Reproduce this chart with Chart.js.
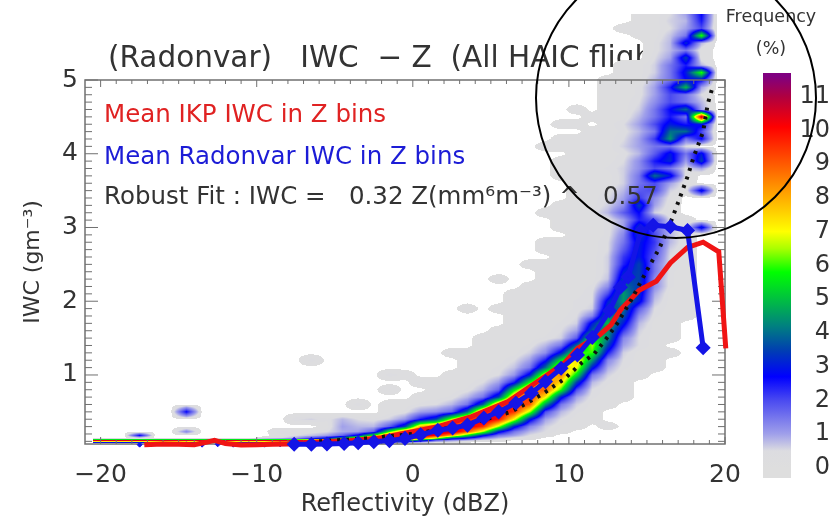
<!DOCTYPE html>
<html>
<head>
<meta charset="utf-8">
<script src="https://cdn.jsdelivr.net/npm/chart.js@4/dist/chart.umd.min.js"></script>
<style>
  html, body { margin: 0; padding: 0; background: #fff; overflow: hidden; }
  #barChart { position: absolute; left: 750px; top: 60px; }
  #mainChart { position: absolute; left: 0; top: 0; }
</style>
</head>
<body>
<canvas id="barChart" width="80" height="430"></canvas>
<canvas id="mainChart" width="839" height="519"></canvas>
<script>
// Mean IKP IWC in Z bins
const redZ = [-17.2, -16, -15, -14, -13.4, -12.7, -12, -11, -10, -9, -8, -7, -6, -5, -4, -3, -2, -1, 0, 1.6, 3.7, 6.1, 8.6, 9.7, 10.55, 11.95, 12.7, 13.3, 14.5, 15.6, 16.5, 17.6, 18.6, 19.6, 20.05];
const redIwc = [0.055, 0.065, 0.06, 0.055, 0.08, 0.115, 0.07, 0.05, 0.055, 0.06, 0.065, 0.08, 0.09, 0.1, 0.11, 0.13, 0.15, 0.19, 0.23, 0.3, 0.43, 0.64, 1.0, 1.16, 1.36, 1.54, 1.68, 1.88, 2.15, 2.27, 2.52, 2.73, 2.8, 2.67, 1.36];

// Mean Radonvar IWC in Z bins
const blueZ = [-7.6, -6.5, -5.5, -4.4, -3.5, -2.5, -1.5, -0.5, 0.5, 1.6, 2.55, 3.5, 4.55, 5.5, 6.6, 7.6, 8.5, 9.5, 10.55, 11.5, 12.6, 13.3, 13.8, 14.6, 15.4, 16.5, 17.6, 18.6];
const blueIwc = [0.06, 0.06, 0.065, 0.07, 0.08, 0.095, 0.11, 0.14, 0.19, 0.25, 0.28, 0.32, 0.416, 0.5, 0.62, 0.755, 0.91, 1.09, 1.27, 1.51, 1.87, 2.19, 2.33, 2.95, 3.03, 3.01, 2.96, 1.37];
// the few low bins that show up as separate small marks under the red line
const blueLowZ = [-17.5, -14.5, -13.5, -12.5, -11.5, -10.5, -9.5, -8.5];
const blueLowIwc = [0.055, 0.06, 0.055, 0.06, 0.055, 0.06, 0.055, 0.06];

// Robust fit, dotted
const fitZ = [-6, -3, 0, 2, 4, 5, 6.3, 7.35, 8.4, 9.7, 10.8, 11.6, 12.5, 13.1, 14, 15, 15.8, 16.5, 17.05, 17.6, 18, 18.6, 18.9, 19.2];
const fitIwc = [0.1, 0.14, 0.2, 0.27, 0.36, 0.42, 0.5, 0.625, 0.755, 0.945, 1.16, 1.28, 1.52, 1.7, 2.02, 2.42, 2.72, 3.06, 3.37, 3.69, 3.96, 4.3, 4.68, 4.9];

const xTicks = [-20, -10, 0, 10, 20];
const yTicks = [1, 2, 3, 4, 5];
const barTicks = [0, 1, 2, 3, 4, 5, 6, 7, 8, 9, 10, 11];

// Frequency (%) density. One row per IWC level, first entry of a row is the
// dBZ of its first cell, cells are 1 dBZ wide, anything not listed is empty.
const iwcLevels = [5.9, 5.8, 5.7, 5.6, 5.5, 5.4, 5.3, 5.2, 5.1, 5.0, 4.9, 4.8, 4.7, 4.6, 4.5, 4.4, 4.3, 4.2, 4.1, 4.0, 3.9, 3.8, 3.7, 3.6, 3.5, 3.4, 3.3, 3.2, 3.1, 3.0, 2.9, 2.8, 2.7, 2.6, 2.5, 2.4, 2.3, 2.2, 2.1, 2.0, 1.9, 1.8, 1.7, 1.6, 1.5, 1.4, 1.3, 1.2, 1.1, 1.0, 0.9, 0.8, 0.7, 0.6, 0.5, 0.4, 0.3, 0.23, 0.18, 0.14, 0.11, 0.08];
const freqRows = [
  [14.5, .2, .3, .5, 1, 2.7],
  [14.5, .2, .3, .6, .8, 2.5],
  [13.5, .3, .3, .3, .5, 1, 2],
  [14.5, .2, .3, .7, 1.5, 6],
  [15.5, .4, .8, 3.2, .8],
  [15.5, .4, .8, 1.5, .3],
  [15.5, .5, 1, 3.5, .3],
  [13.5, .3, .3, .6, 1.5, 2.5, .8],
  [13.5, .3, .3, .6, 1.5, 3, 6],
  [12.5, .3, .3, .3, .8, 1.5, 2.7, 2.7],
  [12.5, .3, .3, .4, 1, 2.5, 5, 1],
  [12.5, .3, .3, .4, 1, 2, 1.5, .5],
  [12.5, .3, .3, .5, 1.2, 2, 1.5, .8],
  [10.5, .3, 0, .3, .3, .6, 1.5, 2.7, 4, 1],
  [11.5, .3, .3, .3, .8, 1.5, 2.5, 1.5, 11],
  [9.5, .3, .3, 0, .3, .5, 1, 2, 3, 2.5, 3],
  [11.5, .3, .3, .4, .8, 1.5, 4, 4, 2],
  [9.5, .3, .3, .3, .3, .5, 1, 2.2, 4.5, 1.5, 2.7],
  [8.5, .3, .3, .3, .3, .3, .6, 1, 1.5, 1.5, .5],
  [10.5, .3, .3, .3, .4, .8, 1.8, 3, 1.5, 3],
  [9.5, .3, .3, .3, .3, .5, 1.2, 2.5, 3.2, 1, 3.5],
  [9.5, .3, .3, .3, .4, .6, 1.2, 2, 1.5, .5, 1],
  [9.5, .3, .3, .3, .3, .6, 1.5, 4, 3, .4],
  [10.5, .3, .3, .3, .6, 1.5, 2, 1, .3],
  [10.5, .3, .3, .4, .8, 1.8, 2, .6, .3, 3],
  [10.5, .3, .3, .5, 1, 2.2, 1.2, .4],
  [9.5, .3, .3, .3, .6, 1.2, 3.5, 1, .3],
  [8.5, .3, .3, .3, .4, .8, 1.8, 2.7, .6, .3],
  [9.5, .3, .3, .3, .4, 1, 2.4, 2, .5, .3],
  [9.5, .3, .3, .3, .4, 1, 3.5, 1.8, .8, .3, 3],
  [10.5, .3, .3, .4, 1.3, 3.5, 2, .8, .3],
  [8.5, .3, .3, .3, .3, .5, 1.5, 3, 2.2, .8, .3],
  [8.5, .3, .3, .3, .3, .5, 1.8, 3, 2, .6, .3],
  [9.5, .3, .3, .3, .6, 2.2, 3, 1.8, .5, .3],
  [7.5, .3, .3, .3, .3, .3, .6, 2.4, 3.5, 1.5, .5, .3],
  [8.5, .3, .3, .3, .3, .6, 3, 3.5, 1.5, .4, .3],
  [5.5, .3, 0, 0, .3, .3, .3, .3, .7, 3.5, 3.5, 1.2, .4, .3],
  [7.5, .3, .3, .3, .3, .4, 1.2, 4, 3.4, 1.2, .4, .3],
  [6.5, .3, .3, .3, .3, .3, .5, 2, 4.5, 3.2, .9, .3, .3],
  [6.5, .3, .3, .3, .3, .4, .5, 3, 4.5, 3, .7, .3, .3],
  [3.5, .3, 0, .3, .3, .3, .3, .3, .4, .6, 3.5, 4, 1.8, .5, .3, .3],
  [6.5, .3, .3, .3, .3, .5, 1.3, 4.2, 3.7, 1.2, .4, .3, .3],
  [6.5, .3, .3, .3, .4, .6, 3, 5, 3, .8, .3, .3],
  [5.5, .3, .3, .3, .3, .5, 1, 3.8, 4.5, 2.2, .6, .3, .3],
  [4.5, .3, .3, .3, .3, .4, .6, 1.8, 6, 4.3, 1.3, .5, .3, .3],
  [4.5, .3, .3, .3, .4, .8, 1.5, 4, 6.5, 3.5, 1, .5, .3],
  [2.5, .3, .3, .3, .3, .3, .6, 1.2, 3, 6, 6, 2.5, .6, .3, .3, .3],
  [-6.5, .5, 0, 0, 0, 0, 0, 0, 0, 0, 0, .3, .3, .3, .5, 1, 2.5, 5.5, 7.5, 4.5, 1.3, .5, .3, .3],
  [3.5, .3, .3, .4, .7, 1.5, 4, 7.5, 7, 3, .9, .4, .3, .3],
  [-1.5, .5, .3, 0, 0, .3, .3, .3, .5, 1.1, 3, 7.2, 8.5, 5.5, 1.5, .6, .3, .3],
  [0.5, .4, .3, .3, .3, .5, 1, 2.5, 5.8, 8.8, 7.5, 3.5, .8, .4, .3],
  [-1.5, .4, 0, 0, .3, .3, .4, .8, 1.7, 5.5, 8.5, 9, 6, 2, .5, .3, .3],
  [0.5, .3, .3, .4, .8, 1.5, 3.5, 8, 9.7, 7.2, 3, 1, .4, .3, .3],
  [-3.5, .5, 0, .3, .3, .4, .5, .8, 1.5, 3.8, 8.4, 10, 9, 4.5, 1.5, .6, .3, .3],
  [-14.5, 2.7, 0, 0, 0, 0, 0, 0, 0, 0, 0, 0, 0, 0, .3, .4, 1, 1.2, 1.7, 4, 8.8, 10.5, 9.5, 6.5, 2, .8, .4, .3],
  [-7.5, .5, .6, .4, .8, .5, .4, .6, 1.1, 2.5, 3.5, 6.6, 8.8, 11, 10, 7, 3, 1, .5, .3, .3],
  [-5.5, .3, 1, .8, .8, 1.8, 3.5, 8, 9, 10.5, 10.5, 9.5, 6.5, 3, 1.3, .6, .35, .3, 0, .3],
  [-14.5, 1.3, 0, 0, 0, 0, 0, .5, .3, .4, .5, .9, 1, 1.8, 6, 9, 10.5, 11, 11, 9, 6.5, 3, 1.5, .8, .5, .3],
  [-17.5, 2.7, 0, 0, 0, 0, 0, 0, 0, 0, .3, .5, .7, 1, 1.7, 3, 6, 9.5, 11, 11, 10, 8, 5.5, 3, 1.5, 1, .5, .3],
  [-9.5, .3, .5, 1, 2, 3, 5, 8, 11, 11, 10.5, 8.8, 6.5, 3.5, 2.5, 1.3, .7, .4, .3],
  [-20.5, 11, 11, 11, 11, 11, 11, 11, 11, 11, 11, 11, 11, 11, 11, 11, 11, 11, 11, 11, 8, 5, 3.5, 1.5, 1, .7, .4, .3],
  [-20.5, 1.5, 1.5, 1.5, 1.5, 1.5, 1.5, 1.5, 1.5, 1.5, 1.5, 1.5, 1.5, 5, 5, 5, 5, 5, 5, 3, 1.5, .8, .4, .3, .3]
];

// colour ramp of the frequency bar
const rampValues = [0, 0.5, 1, 2, 2.7, 3.5, 4.2, 5, 5.8, 6.5, 7, 8.1, 9, 10.1, 11, 11.6];
const rampColors = [[222, 222, 222], [220, 220, 224], [160, 160, 234], [74, 74, 240], [0, 0, 255], [0, 64, 176], [0, 128, 128], [0, 192, 64], [0, 255, 0], [170, 255, 0], [255, 255, 0], [255, 165, 0], [255, 90, 0], [255, 0, 0], [176, 0, 64], [128, 0, 128]];

const textFont = '"DejaVu Sans"';
const inkColor = "#333333";
const tickColor = "#707070";

function rampColor(v) {
  let i = 0;
  while (i < rampValues.length - 2 && v > rampValues[i + 1]) i++;
  const f = Math.min(1, Math.max(0, (v - rampValues[i]) / (rampValues[i + 1] - rampValues[i])));
  return rampColors[i].map((c, k) => Math.round(c + (rampColors[i + 1][k] - c) * f));
}

// freqRows into a full grid, lowest IWC first
const firstCell = -20.5;
const cellCount = 41;
const levelsUp = iwcLevels.slice().reverse();
const freqGrid = freqRows.slice().reverse().map((row) => {
  const cells = Array(cellCount).fill(0);
  row.slice(1).forEach((v, i) => {
    const c = row[0] - firstCell + i;
    if (c < cellCount) cells[c] = v;
  });
  return cells;
});

function freqAt(z, iwc) {
  const cx = z - firstCell;
  if (cx < 0 || cx > cellCount - 1) return 0;
  if (iwc < levelsUp[0] || iwc > levelsUp[levelsUp.length - 1]) return 0;
  let r = 0;
  while (r < levelsUp.length - 2 && iwc > levelsUp[r + 1]) r++;
  const fy = (iwc - levelsUp[r]) / (levelsUp[r + 1] - levelsUp[r]);
  const c0 = Math.floor(cx);
  const c1 = Math.min(c0 + 1, cellCount - 1);
  const fx = cx - c0;
  const lo = freqGrid[r][c0] * (1 - fx) + freqGrid[r][c1] * fx;
  const hi = freqGrid[r + 1][c0] * (1 - fx) + freqGrid[r + 1][c1] * fx;
  return lo * (1 - fy) + hi * fy;
}

const densityPlugin = {
  id: "density",
  beforeDatasetsDraw(chart) {
    const ctx = chart.ctx;
    const xs = chart.scales.x;
    const ys = chart.scales.y;

    // the title goes under the density field, which hides the end of it
    ctx.save();
    ctx.fillStyle = inkColor;
    ctx.textBaseline = "middle";
    ctx.font = "29.5px " + textFont;
    ctx.fillText("(Radonvar)   IWC  \u2212 Z  (All HAIC flights)", 108, 59);
    ctx.restore();

    const w = chart.width;
    const h = chart.height;
    const off = document.createElement("canvas");
    off.width = w;
    off.height = h;
    const offCtx = off.getContext("2d");
    const img = offCtx.createImageData(w, h);
    for (let py = 0; py < h; py++) {
      const iwc = ys.getValueForPixel(py + 0.5);
      for (let px = 0; px < w; px++) {
        const v = freqAt(xs.getValueForPixel(px + 0.5), iwc);
        if (v < 0.09) continue;
        const c = rampColor(v);
        const o = (py * w + px) * 4;
        img.data[o] = c[0];
        img.data[o + 1] = c[1];
        img.data[o + 2] = c[2];
        img.data[o + 3] = 255;
      }
    }
    offCtx.putImageData(img, 0, 0);
    ctx.drawImage(off, 0, 0);

    // frame and ticks point inward on all four sides
    const area = chart.chartArea;
    ctx.save();
    ctx.strokeStyle = tickColor;
    ctx.lineWidth = 1.5;
    ctx.strokeRect(area.left, area.top, area.right - area.left, area.bottom - area.top);
    ctx.lineWidth = 1;
    ctx.beginPath();
    for (let z = -20; z <= 20; z++) {
      const len = z % 10 === 0 ? 7 : 4;
      const p = xs.getPixelForValue(z);
      ctx.moveTo(p, area.bottom);
      ctx.lineTo(p, area.bottom - len);
      ctx.moveTo(p, area.top);
      ctx.lineTo(p, area.top + len);
    }
    for (let t = 1; t <= 50; t++) {
      const len = t % 10 === 0 ? 13 : 7;
      const p = ys.getPixelForValue(t / 10);
      ctx.moveTo(area.left, p);
      ctx.lineTo(area.left + len, p);
      ctx.moveTo(area.right, p);
      ctx.lineTo(area.right - len, p);
    }
    ctx.stroke();
    ctx.restore();

    // legend lines inside the plot
    ctx.save();
    ctx.textBaseline = "middle";
    ctx.font = "24.5px " + textFont;
    ctx.fillStyle = "#e02222";
    ctx.fillText("Mean IKP IWC in Z bins", 104, 116);
    ctx.fillStyle = "#1c1cd6";
    ctx.fillText("Mean Radonvar IWC in Z bins", 104, 158);
    ctx.fillStyle = inkColor;
    ctx.fillText("Robust Fit : IWC =   0.32 Z(mm\u2076m\u207B\u00B3) ^   0.57", 104, 198);
    ctx.restore();
  },
  afterDraw(chart) {
    const ctx = chart.ctx;
    ctx.save();
    ctx.fillStyle = inkColor;
    ctx.textBaseline = "middle";
    ctx.textAlign = "center";
    ctx.font = "17.5px " + textFont;
    ctx.fillText("Frequency", 771, 17);
    ctx.fillText("(%)", 771, 49);
    // hand-drawn circle that was put over the figure
    ctx.strokeStyle = "#000";
    ctx.lineWidth = 2;
    ctx.beginPath();
    ctx.arc(676, 98, 140, 0, Math.PI * 2);
    ctx.stroke();
    ctx.restore();
  },
};

function points(xs, ys) {
  return xs.map((x, i) => ({ x: x, y: ys[i] }));
}

function keepListed(list) {
  return (scale) => {
    scale.ticks = list.map((v) => ({ value: v }));
  };
}

new Chart(document.getElementById("mainChart").getContext("2d"), {
  type: "scatter",
  data: {
    datasets: [
      {
        label: "Mean Radonvar IWC in Z bins",
        data: points(blueZ, blueIwc),
        showLine: true,
        borderColor: "#1414e6",
        backgroundColor: "#1414e6",
        borderWidth: 5,
        pointStyle: "rectRot",
        pointRadius: 4,
        clip: false,
        order: 0,
      },
      {
        label: "Robust Fit",
        data: points(fitZ, fitIwc),
        showLine: true,
        borderColor: "#111",
        borderWidth: 4,
        borderDash: [3, 6],
        pointRadius: 0,
        clip: false,
        order: 1,
      },
      {
        label: "Mean IKP IWC in Z bins",
        data: points(redZ, redIwc),
        showLine: true,
        borderColor: "#f01414",
        borderWidth: 5,
        pointRadius: 0,
        clip: false,
        order: 2,
      },
      {
        label: "Radonvar low bins",
        data: points(blueLowZ, blueLowIwc),
        backgroundColor: "#1414e6",
        borderColor: "#1414e6",
        pointStyle: "rectRot",
        pointRadius: 2.5,
        clip: false,
        order: 3,
      },
    ],
  },
  options: {
    responsive: false,
    animation: false,
    layout: { padding: { top: 80, right: 114, left: 0, bottom: 0 } },
    plugins: { legend: { display: false }, tooltip: { enabled: false } },
    scales: {
      x: {
        type: "linear",
        min: -21,
        max: 20,
        grid: { display: false, drawTicks: false },
        border: { display: false },
        afterBuildTicks: keepListed(xTicks),
        afterFit: (scale) => {
          scale.height = 75;
        },
        ticks: {
          color: inkColor,
          font: { family: textFont, size: 25 },
          padding: 16,
          maxRotation: 0,
          callback: (v) => String(v).replace("-", "\u2212"),
        },
        title: {
          display: true,
          text: "Reflectivity (dBZ)",
          color: inkColor,
          font: { family: textFont, size: 24 },
          padding: { top: 2, bottom: 0 },
        },
      },
      y: {
        type: "linear",
        min: 0.064,
        max: 5,
        grid: { display: false, drawTicks: false },
        border: { display: false },
        afterBuildTicks: keepListed(yTicks),
        afterFit: (scale) => {
          scale.width = 85;
        },
        ticks: {
          color: inkColor,
          font: { family: textFont, size: 25 },
          padding: 7,
        },
        title: {
          display: true,
          text: "IWC (gm\u207B\u00B3)",
          color: inkColor,
          font: { family: textFont, size: 22 },
          padding: { top: 20, bottom: 0 },
        },
      },
    },
  },
  plugins: [densityPlugin],
});

// Frequency bar is its own small chart, one floating bar with the ramp on it
const barRange = [-0.3, 11.7];
new Chart(document.getElementById("barChart").getContext("2d"), {
  type: "bar",
  data: {
    labels: ["Frequency"],
    datasets: [
      {
        data: [barRange],
        barPercentage: 1,
        categoryPercentage: 1,
        backgroundColor: (c) => {
          const area = c.chart.chartArea;
          if (!area) return "#ccc";
          const y = c.chart.scales.y;
          const g = c.chart.ctx.createLinearGradient(0, y.getPixelForValue(barRange[0]), 0, y.getPixelForValue(barRange[1]));
          const span = barRange[1] - barRange[0];
          g.addColorStop(0, "rgb(" + rampColors[0] + ")");
          rampValues.forEach((v, i) => {
            g.addColorStop((v - barRange[0]) / span, "rgb(" + rampColors[i] + ")");
          });
          g.addColorStop(1, "rgb(" + rampColors[rampColors.length - 1] + ")");
          return g;
        },
      },
    ],
  },
  options: {
    responsive: false,
    animation: false,
    layout: { padding: { left: 13, right: 0, top: 13, bottom: 12 } },
    plugins: { legend: { display: false }, tooltip: { enabled: false } },
    scales: {
      x: { display: false },
      y: {
        position: "right",
        min: barRange[0],
        max: barRange[1],
        grid: { display: false, drawTicks: false },
        border: { display: false },
        afterBuildTicks: keepListed(barTicks),
        afterFit: (scale) => {
          scale.width = 39;
          scale.paddingTop = 0;
          scale.paddingBottom = 0;
        },
        ticks: {
          color: inkColor,
          font: { family: textFont, size: 24 },
          padding: 1,
          crossAlign: "far",
        },
      },
    },
  },
});
</script>
</body>
</html>
